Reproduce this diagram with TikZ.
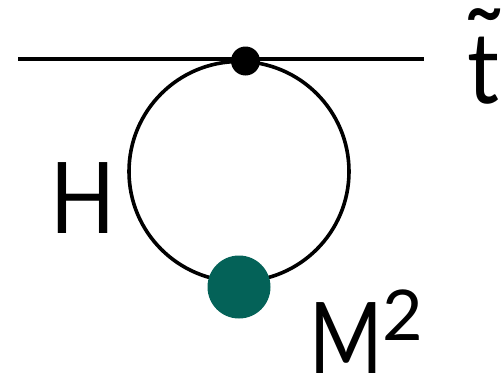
\documentclass[tikz,border=0pt]{standalone}
\usepackage{fontspec}
\setmainfont{Lato}
\definecolor{massgreen}{RGB}{4,98,88}
\begin{document}
\begin{tikzpicture}[x=1pt,y=-1pt,
  prop/.style={line width=4pt,black},
  loopline/.style={circle,draw,line width=3.6pt,minimum size=220pt,inner sep=0pt},
  vertexdot/.style={circle,fill=black,minimum size=29pt,inner sep=0pt},
  massdot/.style={circle,fill=massgreen,minimum size=63pt,inner sep=0pt},
  lab/.style={inner sep=0pt,anchor=base west,font=\fontsize{99}{99}\selectfont}]
\useasboundingbox (0,0) rectangle (501,375);
\coordinate (L) at (18,58.5);
\coordinate (R) at (424,58.5);
\draw[prop] (L) -- (R);
\node[loopline] (loop) at (239,171.5) {};
\node[vertexdot] (v) at (245.5,61) {};
\node[massdot] (m) at (239,287) {};
\node[lab] (t) at (467,103) {\scalebox{0.9}[1]{t}};
\node[inner sep=0pt,anchor=north,font=\fontsize{110}{110}\selectfont] (tilde) at (484,8) {\char"02DC};
\node[lab] (h) at (50,233) {\scalebox{0.86}[1]{H}};
\node[lab] (M) at (309,373) {\scalebox{0.8}[1]{M}\raisebox{33pt}{\fontsize{70}{70}\selectfont 2}};
\end{tikzpicture}
\end{document}
